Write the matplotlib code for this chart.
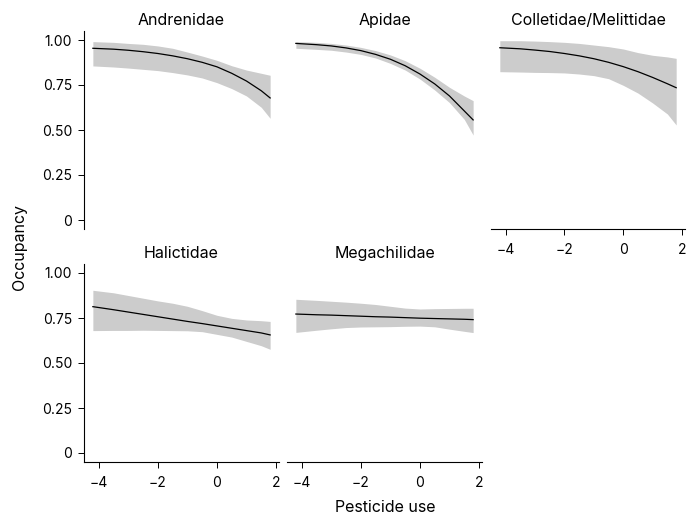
import matplotlib
matplotlib.use("Agg")
import matplotlib.pyplot as plt

plt.rcParams['font.family'] = ['Inter', 'DejaVu Sans']
plt.rcParams['axes.unicode_minus'] = True

# pesticide use values where the curves were read
x = [-4.2, -3.5, -3.0, -2.5, -2.0, -1.5, -1.0, -0.5, 0.0, 0.5, 1.0, 1.5, 1.8]

families = ["Andrenidae", "Apidae", "Colletidae/Melittidae", "Halictidae", "Megachilidae"]

# occupancy estimate and 95% band per family
fit = {
    "Andrenidae": [0.954, 0.949, 0.943, 0.935, 0.925, 0.912, 0.896, 0.876, 0.851, 0.815, 0.772, 0.718, 0.678],
    "Apidae": [0.981, 0.974, 0.967, 0.956, 0.941, 0.920, 0.893, 0.857, 0.811, 0.756, 0.689, 0.606, 0.556],
    "Colletidae/Melittidae": [0.957, 0.951, 0.944, 0.936, 0.925, 0.912, 0.896, 0.876, 0.852, 0.824, 0.792, 0.757, 0.735],
    "Halictidae": [0.813, 0.796, 0.783, 0.770, 0.757, 0.744, 0.731, 0.719, 0.706, 0.693, 0.680, 0.667, 0.656],
    "Megachilidae": [0.772, 0.768, 0.766, 0.763, 0.760, 0.757, 0.755, 0.752, 0.749, 0.747, 0.745, 0.743, 0.741],
}
upper = {
    "Andrenidae": [0.991, 0.987, 0.981, 0.976, 0.967, 0.954, 0.933, 0.911, 0.887, 0.857, 0.833, 0.815, 0.804],
    "Apidae": [0.991, 0.987, 0.981, 0.972, 0.959, 0.941, 0.917, 0.885, 0.843, 0.793, 0.737, 0.689, 0.663],
    "Colletidae/Melittidae": [0.996, 0.996, 0.994, 0.991, 0.987, 0.981, 0.972, 0.963, 0.950, 0.930, 0.915, 0.906, 0.898],
    "Halictidae": [0.904, 0.890, 0.875, 0.860, 0.845, 0.832, 0.815, 0.791, 0.765, 0.748, 0.739, 0.735, 0.731],
    "Megachilidae": [0.854, 0.848, 0.843, 0.838, 0.832, 0.825, 0.815, 0.805, 0.800, 0.802, 0.803, 0.804, 0.804],
}
lower = {
    "Andrenidae": [0.856, 0.850, 0.844, 0.837, 0.830, 0.819, 0.806, 0.789, 0.763, 0.730, 0.689, 0.626, 0.565],
    "Apidae": [0.954, 0.948, 0.943, 0.933, 0.920, 0.900, 0.870, 0.833, 0.783, 0.722, 0.652, 0.559, 0.472],
    "Colletidae/Melittidae": [0.824, 0.822, 0.820, 0.819, 0.817, 0.811, 0.802, 0.785, 0.748, 0.705, 0.650, 0.589, 0.528],
    "Halictidae": [0.680, 0.681, 0.681, 0.682, 0.681, 0.680, 0.679, 0.674, 0.659, 0.644, 0.620, 0.596, 0.576],
    "Megachilidae": [0.670, 0.682, 0.690, 0.697, 0.700, 0.701, 0.702, 0.704, 0.705, 0.701, 0.688, 0.676, 0.669],
}

yticks = [0, 0.25, 0.5, 0.75, 1.0]
ytick_labels = ["0", "0.25", "0.50", "0.75", "1.00"]
xticks = [-4, -2, 0, 2]

W, H = 698, 516
fig = plt.figure(figsize=(W / 100, H / 100), dpi=100)

# panel boxes in pixels: left, top, right, bottom; plus which axes are shown
panels = [
    (84, 31, 279, 229, True, False),
    (287, 31, 482, 229, False, False),
    (491, 31, 685, 229, False, True),
    (84, 264, 279, 462, True, True),
    (287, 264, 482, 462, False, True),
]

for fam, (l, t, r, b, show_y, show_x) in zip(families, panels):
    ax = fig.add_axes([l / W, 1 - b / H, (r - l) / W, (b - t) / H])
    ax.fill_between(x, lower[fam], upper[fam], color='#cccccc', lw=0)
    ax.plot(x, fit[fam], color='black', lw=0.9)
    ax.set_xlim(-4.5, 2.1)
    ax.set_ylim(-0.05, 1.05)
    ax.set_title(fam, fontsize=11.5, pad=4)
    for s in ['top', 'right']:
        ax.spines[s].set_visible(False)
    ax.tick_params(length=4.5, width=0.7, labelsize=10)
    ax.tick_params(axis='x', pad=5.5)
    ax.tick_params(axis='y', pad=4)
    if show_y:
        ax.set_yticks(yticks)
        ax.set_yticklabels(ytick_labels)
        ax.spines['left'].set_linewidth(0.8)
    else:
        ax.spines['left'].set_visible(False)
        ax.set_yticks([])
    if show_x:
        ax.set_xticks(xticks)
        ax.spines['bottom'].set_linewidth(0.8)
    else:
        ax.spines['bottom'].set_visible(False)
        ax.set_xticks([])

fig.text(20 / W, 1 - 247 / H, "Occupancy", rotation=90, ha='center', va='center', fontsize=11.5)
fig.text(385 / W, 1 - 507 / H, "Pesticide use", ha='center', va='center', fontsize=11.5)

fig.savefig("out.png", dpi=100)
